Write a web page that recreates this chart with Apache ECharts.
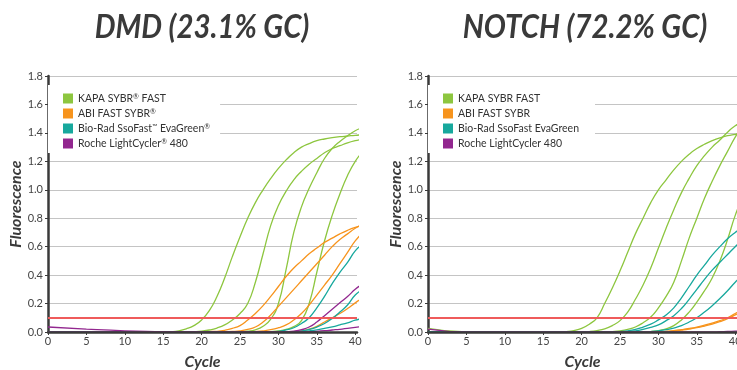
<!DOCTYPE html>
<html>
<head>
<meta charset="utf-8">
<script src="https://cdn.jsdelivr.net/npm/echarts@6/dist/echarts.min.js"></script>
<style>
  html, body { margin: 0; padding: 0; background: #fff; }
  #chart { width: 737px; height: 370px; }
</style>
</head>
<body>
<div id="chart"></div>
<script>
// cycle positions shared by every trace
const cycles = [0, 5, 10, 15, 16, 17, 18, 19, 20, 21, 22, 23, 24, 25, 26, 27, 28, 29, 30, 31, 32, 33, 34, 35, 36, 37, 38, 39, 40, 41];
const xTicks = [0, 5, 10, 15, 20, 25, 30, 35, 40];
const yTicks = [0, 0.2, 0.4, 0.6, 0.8, 1.0, 1.2, 1.4, 1.6, 1.8];
const threshold = 0.105;

const titles = ["DMD (23.1% GC)", "NOTCH (72.2% GC)"];
const dmdNames = ["KAPA SYBR® FAST", "ABI FAST SYBR®", "Bio-Rad SsoFast™ EvaGreen®", "Roche LightCycler® 480"];
const notchNames = ["KAPA SYBR FAST", "ABI FAST SYBR", "Bio-Rad SsoFast EvaGreen", "Roche LightCycler 480"];
const colors = ["#8dc63f", "#f7941d", "#17a89d", "#92278f"];

// DMD (left panel)
const dmdKapa = [
    [0, 0, 0, 0, 0.002, 0.008, 0.022, 0.045, 0.085, 0.15, 0.25, 0.38, 0.53, 0.67, 0.8, 0.91, 1.0, 1.08, 1.15, 1.21, 1.26, 1.3, 1.325, 1.345, 1.357, 1.366, 1.373, 1.378, 1.383, 1.387],
    [0, 0, 0, 0, 0, 0, 0, 0.002, 0.006, 0.014, 0.028, 0.05, 0.085, 0.13, 0.2, 0.35, 0.55, 0.75, 0.89, 0.99, 1.07, 1.13, 1.18, 1.22, 1.26, 1.29, 1.31, 1.33, 1.345, 1.356],
    [0, 0, 0, 0, 0, 0, 0, 0, 0, 0, 0, 0, 0, 0.002, 0.006, 0.015, 0.04, 0.09, 0.2, 0.44, 0.7, 0.88, 1.01, 1.12, 1.22, 1.29, 1.34, 1.38, 1.415, 1.44],
    [0, 0, 0, 0, 0, 0, 0, 0, 0, 0, 0, 0, 0, 0, 0, 0, 0, 0.003, 0.008, 0.018, 0.038, 0.08, 0.2, 0.42, 0.64, 0.82, 0.97, 1.1, 1.2, 1.27]
];
const dmdAbi = [
    [0, 0, 0, 0, 0, 0, 0, 0, 0.002, 0.003, 0.005, 0.012, 0.025, 0.045, 0.085, 0.13, 0.185, 0.25, 0.32, 0.39, 0.45, 0.5, 0.55, 0.59, 0.63, 0.66, 0.69, 0.715, 0.735, 0.75],
    [0, 0, 0, 0, 0, 0, 0, 0, 0, 0, 0, 0.002, 0.004, 0.008, 0.018, 0.035, 0.07, 0.12, 0.18, 0.24, 0.3, 0.36, 0.42, 0.48, 0.54, 0.6, 0.65, 0.69, 0.73, 0.76],
    [0, 0, 0, 0, 0, 0, 0, 0, 0, 0, 0, 0, 0, 0, 0, 0.003, 0.008, 0.016, 0.03, 0.05, 0.085, 0.13, 0.19, 0.26, 0.33, 0.4, 0.48, 0.56, 0.64, 0.7],
    [0, 0, 0, 0, 0, 0, 0, 0, 0, 0, 0, 0, 0, 0, 0, 0, 0, 0, 0, 0.001, 0.003, 0.008, 0.02, 0.04, 0.07, 0.1, 0.13, 0.165, 0.205, 0.24]
];
const dmdBioRad = [
    [0, 0, 0, 0, 0, 0, 0, 0, 0, 0, 0, 0, 0, 0, 0, 0, 0, 0.002, 0.005, 0.015, 0.03, 0.06, 0.1, 0.17, 0.25, 0.34, 0.42, 0.49, 0.57, 0.62],
    [0, 0, 0, 0, 0, 0, 0, 0, 0, 0, 0, 0, 0, 0, 0, 0, 0, 0, 0, 0, 0.002, 0.008, 0.018, 0.035, 0.06, 0.095, 0.14, 0.19, 0.26, 0.3],
    [0, 0, 0, 0, 0, 0, 0, 0, 0, 0, 0, 0, 0, 0, 0, 0, 0, 0, 0, 0, 0, 0.003, 0.008, 0.015, 0.025, 0.036, 0.05, 0.065, 0.083, 0.095]
];
const dmdRoche = [
    [0, 0, 0, 0, 0, 0, 0, 0, 0, 0, 0, 0, 0, 0, 0, 0, 0, 0, 0, 0.002, 0.006, 0.016, 0.035, 0.07, 0.115, 0.16, 0.205, 0.25, 0.3, 0.34],
    [0.035, 0.02, 0.008, 0.002, 0, 0, 0, 0, 0, 0, 0, 0, 0, 0, 0, 0, 0, 0, 0, 0, 0, 0, 0.002, 0.005, 0.009, 0.014, 0.019, 0.025, 0.033, 0.038]
];

// NOTCH (right panel)
const notchKapa = [
    [0.025, 0, 0, 0, 0, 0, 0.003, 0.01, 0.025, 0.055, 0.1, 0.2, 0.31, 0.43, 0.56, 0.69, 0.8, 0.91, 1.0, 1.07, 1.14, 1.2, 1.25, 1.29, 1.32, 1.345, 1.365, 1.38, 1.39, 1.4],
    [0, 0, 0, 0, 0, 0, 0, 0, 0, 0.003, 0.01, 0.022, 0.045, 0.08, 0.14, 0.23, 0.33, 0.45, 0.59, 0.73, 0.86, 0.98, 1.08, 1.17, 1.24, 1.3, 1.35, 1.405, 1.45, 1.48],
    [0, 0, 0, 0, 0, 0, 0, 0, 0, 0, 0, 0, 0.003, 0.008, 0.018, 0.035, 0.065, 0.105, 0.17, 0.25, 0.35, 0.5, 0.66, 0.8, 0.94, 1.06, 1.17, 1.27, 1.37, 1.45],
    [0, 0, 0, 0, 0, 0, 0, 0, 0, 0, 0, 0, 0, 0, 0, 0, 0, 0.003, 0.01, 0.022, 0.045, 0.085, 0.14, 0.21, 0.29, 0.38, 0.5, 0.65, 0.82, 0.95]
];
const notchAbi = [
    [0, 0, 0, 0, 0, 0, 0, 0, 0, 0, 0, 0, 0, 0, 0, 0, 0, 0, 0.002, 0.005, 0.01, 0.017, 0.025, 0.035, 0.048, 0.063, 0.08, 0.1, 0.13, 0.16],
    [0, 0, 0, 0, 0, 0, 0, 0, 0, 0, 0, 0, 0, 0, 0, 0, 0, 0, 0.001, 0.004, 0.008, 0.014, 0.021, 0.03, 0.042, 0.056, 0.073, 0.093, 0.12, 0.15]
];
const notchBioRad = [
    [0, 0, 0, 0, 0, 0, 0, 0, 0, 0, 0, 0, 0, 0.003, 0.008, 0.018, 0.035, 0.055, 0.085, 0.12, 0.17, 0.24, 0.32, 0.4, 0.47, 0.54, 0.6, 0.655, 0.7, 0.74],
    [0, 0, 0, 0, 0, 0, 0, 0, 0, 0, 0, 0, 0, 0, 0.003, 0.008, 0.018, 0.032, 0.05, 0.08, 0.115, 0.165, 0.23, 0.3, 0.37, 0.435, 0.49, 0.545, 0.6, 0.65],
    [0, 0, 0, 0, 0, 0, 0, 0, 0, 0, 0, 0, 0, 0, 0, 0, 0, 0.003, 0.008, 0.016, 0.028, 0.045, 0.07, 0.1, 0.14, 0.185, 0.235, 0.29, 0.35, 0.4]
];
const notchRoche = [
    [0.02, 0, 0, 0, 0, 0, 0, 0, 0, 0, 0, 0, 0, 0, 0, 0, 0, 0, 0, 0, 0, 0, 0, 0, 0, 0, 0.002, 0.004, 0.006, 0.008]
];

const chart = echarts.init(document.getElementById("chart"));

const font = "Lato";
const textColor = "#3a3a3a";

function makeAxes(idx) {
    const xAxis = {
        gridIndex: idx,
        type: "value",
        min: 0,
        max: 40.23,
        interval: 5,
        z: 3,
        name: "Cycle",
        nameLocation: "middle",
        nameGap: 22,
        nameTextStyle: { fontFamily: font, fontSize: 16, fontWeight: "bold", fontStyle: "italic", color: textColor },
        axisLine: { lineStyle: { color: "#3a3a3a", width: 2.5 } },
        axisTick: { show: true, length: 3, lineStyle: { color: "#3a3a3a" } },
        axisLabel: { fontFamily: font, fontSize: 11, color: "#444", margin: 4, showMaxLabel: false,
            formatter: v => (xTicks.indexOf(v) >= 0 ? String(v) : "") },
        splitLine: { show: false }
    };
    const yAxis = {
        gridIndex: idx,
        type: "value",
        min: 0,
        max: 1.8,
        interval: 0.2,
        name: "Fluorescence",
        nameLocation: "middle",
        nameGap: 24,
        nameRotate: 90,
        nameTextStyle: { fontFamily: font, fontSize: 16, fontWeight: "bold", fontStyle: "italic", color: textColor },
        axisLine: { show: true, lineStyle: { color: "#3a3a3a", width: 2.5 } },
        axisTick: { show: true, length: 3, lineStyle: { color: "#3a3a3a" } },
        axisLabel: { fontFamily: font, fontSize: 11, color: "#444", margin: 5,
            formatter: v => (yTicks.some(t => Math.abs(t - v) < 1e-6) ? v.toFixed(1) : "") },
        splitLine: { show: true, lineStyle: { color: "#c4c4c4", width: 1 } }
    };
    return { xAxis, yAxis };
}

function toPairs(vals) {
    return vals.map((v, i) => [cycles[i], v]);
}

const series = [];
function addGroup(idx, name, color, runs) {
    runs.forEach(run => {
        series.push({
            type: "line",
            name: name,
            xAxisIndex: idx,
            yAxisIndex: idx,
            data: toPairs(run),
            smooth: 0.5,
            showSymbol: false,
            symbol: "none",
            itemStyle: { color: color },
            lineStyle: { color: color, width: 1.3 },
            z: 2
        });
    });
}

addGroup(0, dmdNames[0], colors[0], dmdKapa);
addGroup(0, dmdNames[1], colors[1], dmdAbi);
addGroup(0, dmdNames[2], colors[2], dmdBioRad);
addGroup(0, dmdNames[3], colors[3], dmdRoche);
addGroup(1, notchNames[0], colors[0], notchKapa);
addGroup(1, notchNames[1], colors[1], notchAbi);
addGroup(1, notchNames[2], colors[2], notchBioRad);
addGroup(1, notchNames[3], colors[3], notchRoche);

// red threshold line in each panel
[0, 1].forEach(idx => {
    series.push({
        type: "line",
        xAxisIndex: idx,
        yAxisIndex: idx,
        data: [],
        markLine: {
            silent: true,
            symbol: "none",
            label: { show: false },
            lineStyle: { color: "#ef5b5b", width: 2, type: "solid" },
            data: [{ yAxis: threshold }]
        },
        z: 3
    });
});

const a0 = makeAxes(0);
const a1 = makeAxes(1);

const legendBase = {
    orient: "vertical",
    top: 85,
    itemWidth: 10,
    itemHeight: 10,
    itemGap: 4,
    icon: "rect",
    backgroundColor: "#fff",
    // small raised ® and ™ like the printed figure
    formatter: name => name.replace(/[®™]/g, m => "{sup|" + m + "}"),
    textStyle: {
        fontFamily: font, fontSize: 10.5, color: "#333",
        rich: { sup: { fontFamily: font, fontSize: 7, color: "#333", verticalAlign: "top", padding: [0, 0, 3, 0] } }
    },
    z: 5
};

const titleFont = "italic bold 33px Lato";

const option = {
    animation: false,
    textStyle: { fontFamily: font },
    graphic: [
        { type: "text", x: 202, y: 27, scaleX: 0.89, z: 10,
          style: { text: titles[0], font: titleFont, fill: textColor, align: "center", verticalAlign: "middle" } },
        { type: "text", x: 585, y: 27, scaleX: 0.89, z: 10,
          style: { text: titles[1], font: titleFont, fill: textColor, align: "center", verticalAlign: "middle" } }
    ],
    legend: [
        Object.assign({}, legendBase, { left: 48, padding: [8, 10, 4, 15], data: dmdNames }),
        Object.assign({}, legendBase, { left: 428, padding: [8, 16, 4, 15], data: notchNames })
    ],
    grid: [
        { left: 48, top: 76, width: 309, height: 256, outerBoundsMode: "none", containLabel: false },
        { left: 428, top: 76, width: 309, height: 256, outerBoundsMode: "none", containLabel: false }
    ],
    xAxis: [a0.xAxis, a1.xAxis],
    yAxis: [a0.yAxis, a1.yAxis],
    series: series
};

chart.setOption(option);
</script>
</body>
</html>
